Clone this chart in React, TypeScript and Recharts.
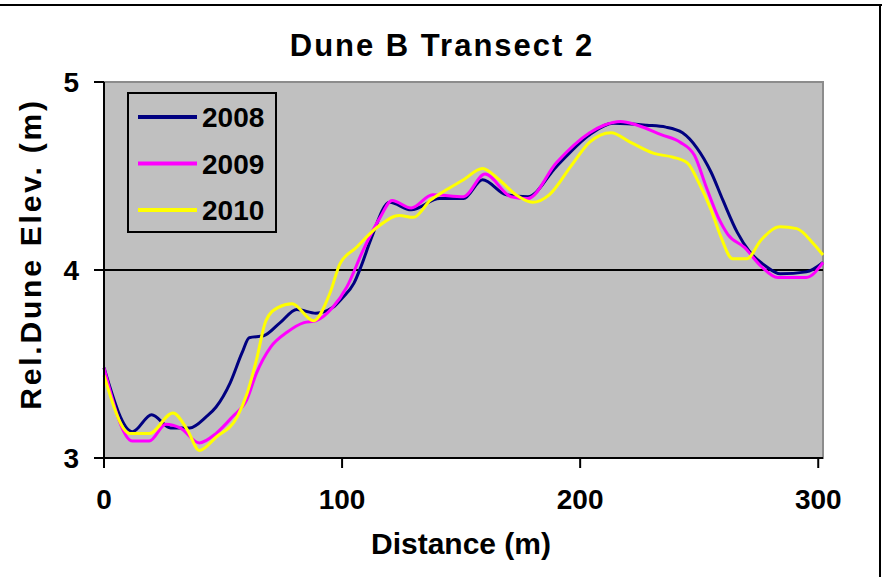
import React from 'react'
import { LineChart, Line, XAxis, YAxis, ReferenceLine, ReferenceArea, Label } from 'recharts'

// distance (m) / relative dune elevation (m)
const dist2008 = [0, 12, 20, 28, 36, 43, 47, 53, 58, 61, 67, 74, 81, 89, 96, 100, 105, 108, 112, 120, 129, 141, 151, 159, 169, 178, 190, 204, 214, 228, 236, 243, 249, 255, 260, 266, 271, 278, 284, 295, 302]
const elev2008 = [3.48, 3.14, 3.23, 3.16, 3.16, 3.22, 3.27, 3.4, 3.56, 3.64, 3.65, 3.72, 3.79, 3.77, 3.8, 3.85, 3.93, 4.02, 4.16, 4.36, 4.32, 4.38, 4.38, 4.48, 4.4, 4.39, 4.55, 4.72, 4.78, 4.77, 4.76, 4.73, 4.65, 4.52, 4.37, 4.2, 4.1, 4.02, 3.98, 3.99, 4.04]

const dist2009 = [0, 12, 19, 26, 32, 40, 47, 54, 60, 64, 70, 77, 84, 89, 96, 102, 109, 116, 121, 129, 138, 151, 160, 171, 178, 190, 204, 210, 217, 224, 234, 242, 248, 253, 258, 262, 269, 276, 283, 295, 302]
const elev2009 = [3.48, 3.09, 3.09, 3.18, 3.16, 3.08, 3.13, 3.22, 3.31, 3.45, 3.59, 3.67, 3.72, 3.73, 3.8, 3.91, 4.11, 4.28, 4.37, 4.33, 4.4, 4.39, 4.51, 4.39, 4.38, 4.57, 4.73, 4.77, 4.79, 4.77, 4.72, 4.68, 4.61, 4.44, 4.28, 4.19, 4.12, 4.02, 3.96, 3.96, 4.04]

const dist2010 = [0, 11, 19, 29, 35, 40, 47, 56, 60, 64, 68, 73, 79, 88, 95, 99, 106, 115, 124, 130, 137, 143, 151, 159, 166, 173, 180, 187, 196, 204, 213, 221, 231, 239, 245, 250, 255, 259, 264, 270, 276, 284, 291, 298, 302]
const elev2010 = [3.44, 3.13, 3.13, 3.24, 3.15, 3.04, 3.11, 3.22, 3.34, 3.52, 3.73, 3.8, 3.82, 3.73, 3.88, 4.03, 4.12, 4.23, 4.29, 4.28, 4.37, 4.42, 4.48, 4.54, 4.48, 4.4, 4.36, 4.4, 4.55, 4.68, 4.73, 4.68, 4.62, 4.6, 4.57, 4.46, 4.32, 4.18, 4.06, 4.06, 4.16, 4.23, 4.22, 4.14, 4.08]

const xTicks = [0, 100, 200, 300]
const yTicks = [3, 4, 5]

const toPoints = (d: number[], e: number[]) => d.map((x, i) => ({ dist: x, elev: e[i] }))

const series = [
  { name: '2008', color: '#000080', data: toPoints(dist2008, elev2008) },
  { name: '2009', color: '#ff00ff', data: toPoints(dist2009, elev2009) },
  { name: '2010', color: '#ffff00', data: toPoints(dist2010, elev2010) },
]

const FONT = '"Liberation Sans", Arial, sans-serif'
const tickStyle = { fontSize: 28, fontWeight: 700, fill: '#000', fontFamily: FONT }

function LegendBox() {
  return (
    <svg width={150} height={141} style={{ position: 'absolute', left: 127, top: 92 }}>
      <rect x={1} y={1} width={148} height={139} fill="#c0c0c0" stroke="#000" strokeWidth={2} />
      {series.map((s, i) => (
        <g key={s.name}>
          <line x1={11} x2={70} y1={25 + i * 46.5} y2={25 + i * 46.5} stroke={s.color} strokeWidth={4} />
          <text x={75} y={25 + i * 46.5} dy="0.36em" fontSize={28} fontWeight={700} fontFamily={FONT} fill="#000">
            {s.name}
          </text>
        </g>
      ))}
    </svg>
  )
}

export default function App() {
  return (
    <div style={{ position: 'absolute', left: 0, top: 0, width: 886, height: 577, background: '#fff', overflow: 'hidden' }}>
      <div style={{ position: 'absolute', left: 0, top: 4, width: 882, height: 0, borderTop: '2px solid #000' }} />
      <div style={{ position: 'absolute', left: 879, top: 4, width: 0, height: 580, borderLeft: '2px solid #000' }} />
      <div
        style={{
          position: 'absolute',
          left: 0,
          width: 884,
          top: 28,
          textAlign: 'center',
          fontFamily: FONT,
          fontWeight: 700,
          fontSize: 31,
          letterSpacing: 2,
          lineHeight: '36px',
        }}
      >
        Dune B Transect 2
      </div>
      <LineChart width={886} height={577} margin={{ top: 82, right: 63, left: 0, bottom: 0 }}>
        <ReferenceArea x1={0} x2={302} y1={3} y2={5} fill="#c0c0c0" fillOpacity={1} stroke="#8c8c8c" strokeWidth={2} />
        <ReferenceLine y={4} stroke="#000" strokeWidth={2} />
        <XAxis
          dataKey="dist"
          type="number"
          domain={[0, 302]}
          ticks={xTicks}
          height={119}
          tickSize={10}
          tickMargin={21}
          tick={tickStyle}
          axisLine={{ stroke: '#000', strokeWidth: 2 }}
          tickLine={{ stroke: '#000', strokeWidth: 2 }}
          allowDuplicatedCategory={false}
        >
          <Label
            content={() => (
              <text x={461} y={543} dy="0.36em" textAnchor="middle" fontSize={30} fontWeight={700} fontFamily={FONT} fill="#000">
                Distance (m)
              </text>
            )}
          />
        </XAxis>
        <YAxis
          type="number"
          domain={[3, 5]}
          ticks={yTicks}
          width={104}
          tickSize={10}
          tickMargin={15}
          tick={tickStyle}
          axisLine={{ stroke: '#000', strokeWidth: 2 }}
          tickLine={{ stroke: '#000', strokeWidth: 2 }}
        >
          <Label
            content={() => (
              <text
                x={30}
                y={254}
                dy="0.36em"
                transform="rotate(-90 30 254)"
                textAnchor="middle"
                fontSize={30}
                fontWeight={700}
                fontFamily={FONT}
                letterSpacing={2.8}
                fill="#000"
              >
                Rel.Dune Elev. (m)
              </text>
            )}
          />
        </YAxis>
        {series.map((s) => (
          <Line
            key={s.name}
            data={s.data}
            dataKey="elev"
            name={s.name}
            type="monotone"
            stroke={s.color}
            strokeWidth={3}
            dot={false}
            activeDot={false}
            isAnimationActive={false}
          />
        ))}
      </LineChart>
      <LegendBox />
    </div>
  )
}
